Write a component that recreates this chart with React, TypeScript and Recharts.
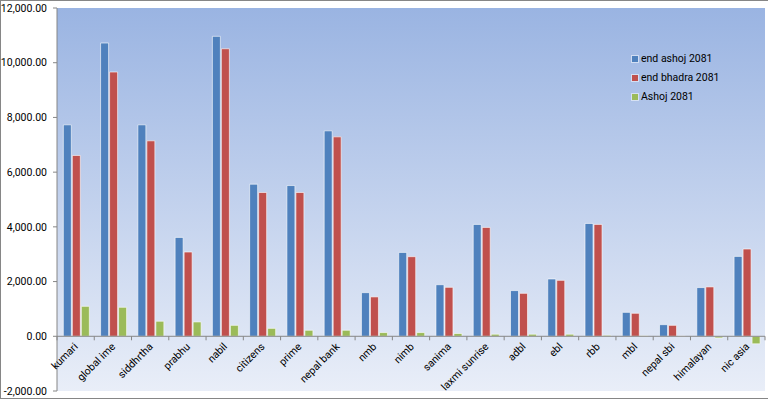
import { BarChart, Bar, XAxis, YAxis, CartesianGrid, ReferenceLine } from "recharts"

const banks = [
  "kumari", "global ime", "siddhrtha", "prabhu", "nabil", "citizens", "prime", "nepal bank",
  "nmb", "nimb", "sanima", "laxmi sunrise", "adbl", "ebl", "rbb", "mbl", "nepal sbi",
  "himalayan", "nic asia",
]
const endAshoj = [
  7730, 10720, 7730, 3615, 10965, 5560, 5510, 7510,
  1595, 3065, 1885, 4090, 1670, 2095, 4125, 875, 425,
  1780, 2920,
]
const endBhadra = [
  6610, 9660, 7145, 3080, 10510, 5255, 5255, 7290,
  1440, 2910, 1790, 3980, 1570, 2045, 4090, 840, 400,
  1805, 3190,
]
const ashoj = [
  1095, 1060, 550, 525, 400, 290, 220, 220,
  135, 135, 100, 75, 75, 75, 35, 15, 5,
  -60, -275,
]
const yTicks = [-2000, 0, 2000, 4000, 6000, 8000, 10000, 12000]
const seriesNames = ["end ashoj 2081", "end bhadra 2081", "Ashoj 2081"]
const colors = ["#4F81BD", "#C0504D", "#9BBB59"]

const data = banks.map((name, i) => ({
  name,
  endAshoj: endAshoj[i],
  endBhadra: endBhadra[i],
  ashoj: ashoj[i],
}))

const W = 768
const H = 399
const margin = { top: 8, right: 3, bottom: 7, left: 0 }
const X_AXIS_H = 1
const Y_AXIS_W = 57
const Y_MIN = -2000
const Y_MAX = 12000
const PLOT_H = H - margin.top - margin.bottom - X_AXIS_H
// category labels sit under the zero line, not at the bottom of the plot
const ZERO_Y = margin.top + (PLOT_H * Y_MAX) / (Y_MAX - Y_MIN)
const BAND = (W - margin.left - margin.right - Y_AXIS_W) / banks.length
const FONT = "Roboto, 'Liberation Sans', sans-serif"

function fmt(v: number) {
  return v.toLocaleString("en-US", { minimumFractionDigits: 2, maximumFractionDigits: 2 })
}

// slanted label drawn as html inside the svg, pivoting on the end of its baseline
function BankTick(props: any) {
  const { x, payload, index } = props
  const ax = x + 4
  const ay = ZERO_Y + 13
  const boxW = 110
  const boxH = 110
  return (
    <g>
      <line x1={x - BAND / 2} x2={x - BAND / 2} y1={ZERO_Y} y2={ZERO_Y + 4} stroke="#868686" />
      {index === banks.length - 1 && (
        <line x1={x + BAND / 2} x2={x + BAND / 2} y1={ZERO_Y} y2={ZERO_Y + 4} stroke="#868686" />
      )}
      <foreignObject x={ax - boxW} y={ay - 12} width={boxW + 2} height={boxH} style={{ overflow: "visible" }}>
        <div
          style={{
            position: "absolute",
            right: 2,
            top: 0,
            height: 14,
            lineHeight: "14px",
            whiteSpace: "nowrap",
            fontFamily: FONT,
            fontSize: 10.5,
            color: "#000",
            transformOrigin: "100% 11px",
            transform: "rotate(-45deg)",
          }}
        >
          {payload.value}
        </div>
      </foreignObject>
    </g>
  )
}

function LegendBox() {
  return (
    <div
      style={{
        position: "absolute",
        left: 632,
        top: 49,
        fontFamily: FONT,
        fontSize: 10.5,
        color: "#000",
      }}
    >
      {seriesNames.map((n, i) => (
        <div key={n} style={{ display: "flex", alignItems: "center", height: 19 }}>
          <span
            style={{
              width: 6,
              height: 6,
              background: colors[i],
              marginRight: 3,
              outline: "1px solid rgba(255,255,255,0.5)",
            }}
          />
          <span>{n}</span>
        </div>
      ))}
    </div>
  )
}

export default function App() {
  return (
    <div style={{ position: "fixed", left: 0, top: 0, width: W, height: H, background: "#fff" }}>
      <BarChart width={W} height={H} data={data} margin={margin} barCategoryGap="17%" barGap={1}>
        <defs>
          <linearGradient id="plotBg" x1="0" y1="0" x2="0" y2="1">
            <stop offset="0%" stopColor="#9AB4E2" />
            <stop offset="100%" stopColor="#E9EEF8" />
          </linearGradient>
        </defs>
        <CartesianGrid horizontal={false} vertical={false} fill="url(#plotBg)" />
        <XAxis
          dataKey="name"
          height={X_AXIS_H}
          tickLine={false}
          axisLine={false}
          interval={0}
          tick={(p: any) => <BankTick {...p} />}
        />
        <YAxis
          width={Y_AXIS_W}
          domain={[Y_MIN, Y_MAX]}
          ticks={yTicks}
          tickFormatter={fmt}
          tickSize={4}
          tickMargin={6}
          allowDataOverflow
          axisLine={{ stroke: "#868686" }}
          tickLine={{ stroke: "#868686" }}
          tick={{ fontSize: 10.5, fill: "#000", fontFamily: FONT }}
        />
        <ReferenceLine y={0} stroke="#868686" />
        <Bar dataKey="endAshoj" name={seriesNames[0]} fill={colors[0]} stroke="#fff" strokeOpacity={0.6} isAnimationActive={false} />
        <Bar dataKey="endBhadra" name={seriesNames[1]} fill={colors[1]} stroke="#fff" strokeOpacity={0.6} isAnimationActive={false} />
        <Bar dataKey="ashoj" name={seriesNames[2]} fill={colors[2]} stroke="#fff" strokeOpacity={0.6} isAnimationActive={false} />
      </BarChart>
      <LegendBox />
      <div
        style={{
          position: "absolute",
          inset: 0,
          border: "1px solid #868686",
          borderRight: "none",
          pointerEvents: "none",
        }}
      />
    </div>
  )
}
